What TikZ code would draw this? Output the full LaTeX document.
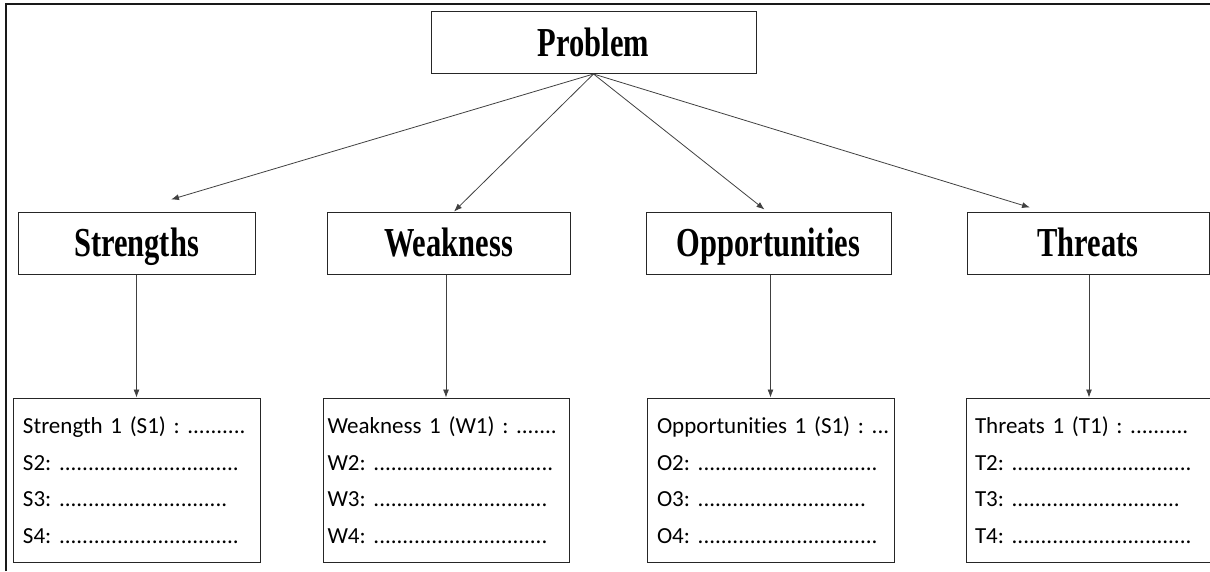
\documentclass[tikz,border=0pt]{standalone}
\usepackage{fontspec}
\setmainfont{Carlito}[Ligatures=NoCommon]
\newfontfamily\headfont{Liberation Serif}
\usetikzlibrary{arrows.meta}
\newcommand{\tallbf}[1]{\scalebox{1}[1.35]{#1}}
\newcommand{\dten}{..........}
\tikzset{
  head/.style={draw=black!85, line width=1pt, minimum height=62pt, inner sep=0pt,
    text height=27pt, text depth=0pt,
    font=\headfont\bfseries\fontsize{30.5}{30.5}\selectfont},
  list/.style={draw=black!85, line width=1pt, minimum height=164pt, inner ysep=0pt,
    align=left, font=\fontsize{23}{36.5}\selectfont\frenchspacing},
  link/.style={draw=black!75, line width=0.8pt, -{Latex[length=8pt,width=6pt]}}
}
\begin{document}
\begin{tikzpicture}[x=1pt,y=-1pt]
        \useasboundingbox (0,0) rectangle (1210,571);
        \draw[line width=1.6pt, black!90] (6,571) -- (6,4) -- (1210,4);
        \node[head, minimum width=325pt] at (593.5,42.5) (P) {\tallbf{Problem}};
        \node[head, minimum width=237pt] at (136.5,243) (S) {\tallbf{Strengths}};
        \node[head, minimum width=243pt] at (448.5,243) (W) {\tallbf{Weakness}};
        \node[head, minimum width=245pt] at (768.5,243) (O) {\tallbf{Opportunities}};
        \node[head, minimum width=242pt] at (1088,243) (T) {\tallbf{Threats}};
        \node[list, text width=227pt, inner xsep=10pt] at (136.5,480) (Sl)
          {\mbox{Strength 1 (S1) : \dten}\\ S2: \dten\dten\dten.\\ S3: \dten\dten.........\\ S4: \dten\dten\dten.};
        \node[list, text width=237pt, inner xsep=4.5pt] at (446,480) (Wl)
          {\mbox{Weakness 1 (W1) : .......}\\ W2: \dten\dten\dten.\\ W3: \dten\dten\dten\\ W4: \dten\dten\dten};
        \node[list, text width=227pt, inner xsep=10pt] at (770.5,480) (Ol)
          {\mbox{Opportunities 1 (S1) : ...}\\ O2: \dten\dten\dten.\\ O3: \dten\dten.........\\ O4: \dten\dten\dten.};
        \node[list, text width=228pt, inner xsep=9pt] at (1089,480) (Tl)
          {\mbox{Threats 1 (T1) : \dten}\\ T2: \dten\dten\dten.\\ T3: \dten\dten.........\\ T4: \dten\dten\dten.};
        \draw[link] (P.south) -- ([xshift=34.5pt,yshift=12pt]S.north);
        \draw[link] (P.south) -- ([xshift=5.5pt]W.north);
        \draw[link] (P.south) -- ([xshift=-4pt,yshift=2pt]O.north);
        \draw[link] (P.south) -- ([xshift=-58pt,yshift=4pt]T.north);
        \draw[link] (Sl.north |- S.south) -- (Sl.north);
        \draw[link] (Wl.north |- W.south) -- (Wl.north);
        \draw[link] (Ol.north |- O.south) -- (Ol.north);
        \draw[link] (Tl.north |- T.south) -- (Tl.north);
      \end{tikzpicture}
\end{document}
